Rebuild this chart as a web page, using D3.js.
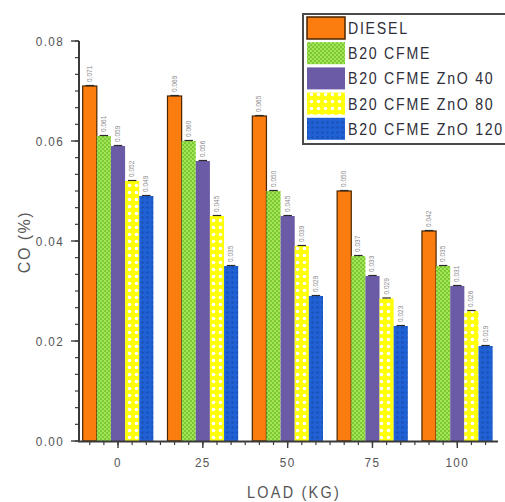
<!DOCTYPE html>
<html>
<head>
<meta charset="utf-8">
<script src="https://cdn.jsdelivr.net/npm/d3@7"></script>
<style>
  html, body { margin: 0; padding: 0; background: #fff; }
  svg text { font-family: "Liberation Sans", Arial, sans-serif; }
</style>
</head>
<body>
<svg id="chart" width="505" height="502"></svg>
<script>
// data
let loads = [0, 25, 50, 75, 100];
let series_names = ['DIESEL', 'B20 CFME', 'B20 CFME ZnO 40', 'B20 CFME ZnO 80', 'B20 CFME ZnO 120'];
let diesel = [0.071, 0.069, 0.065, 0.050, 0.042];
let b20_cfme = [0.061, 0.060, 0.050, 0.037, 0.035];
let b20_zno40 = [0.059, 0.056, 0.045, 0.033, 0.031];
let b20_zno80 = [0.052, 0.045, 0.039, 0.0285, 0.026];
let b20_zno120 = [0.049, 0.035, 0.029, 0.023, 0.019];
let y_ticks = [0, 0.02, 0.04, 0.06, 0.08];

let all_values = [diesel, b20_cfme, b20_zno40, b20_zno80, b20_zno120];
let fills = ['#fb7d10', 'url(#pat_green)', '#6b5aa6', 'url(#pat_yellow)', 'url(#pat_blue)'];
let strokes = ['#4a2500', 'none', 'none', 'none', 'none'];

let svg = d3.select('#chart');
let axis_color = '#3a3a3a';
let text_color = '#555';

// patterns
let defs = svg.append('defs');
let pg = defs.append('pattern').attr('id', 'pat_green').attr('patternUnits', 'userSpaceOnUse')
    .attr('width', 4).attr('height', 4);
pg.append('rect').attr('width', 4).attr('height', 4).attr('fill', '#78cc2e');
pg.append('rect').attr('width', 2).attr('height', 2).attr('fill', '#a6e25e');
pg.append('rect').attr('x', 2).attr('y', 2).attr('width', 2).attr('height', 2).attr('fill', '#a6e25e');

let py = defs.append('pattern').attr('id', 'pat_yellow').attr('patternUnits', 'userSpaceOnUse')
    .attr('width', 7).attr('height', 7);
py.append('rect').attr('width', 7).attr('height', 7).attr('fill', '#ffff08');
py.append('circle').attr('cx', 3.5).attr('cy', 3.5).attr('r', 1.8).attr('fill', '#ffffff');

let pb = defs.append('pattern').attr('id', 'pat_blue').attr('patternUnits', 'userSpaceOnUse')
    .attr('width', 5).attr('height', 5);
pb.append('rect').attr('width', 5).attr('height', 5).attr('fill', '#2062d6');
pb.append('circle').attr('cx', 2.5).attr('cy', 2.5).attr('r', 1.3).attr('fill', '#1a50b8');

// scales
let x = d3.scaleLinear().domain([-11.5, 112]).range([79, 498]);
let y = d3.scaleLinear().domain([0, 0.08]).range([441, 41]);
let group_w = x(25 * 5 / 6) - x(0);
let x1 = d3.scaleBand().domain(d3.range(series_names.length)).range([-group_w / 2, group_w / 2]).padding(0);

// bars
all_values.forEach(function (vals, si) {
    let g = svg.append('g');
    vals.forEach(function (v, li) {
        let bx = x(loads[li]) + x1(si);
        let bw = x1.bandwidth();
        g.append('rect')
            .attr('x', bx).attr('y', y(v))
            .attr('width', bw).attr('height', y(0) - y(v))
            .attr('fill', fills[si])
            .attr('stroke', strokes[si]).attr('stroke-width', 1.2);
        // small error cap
        g.append('line')
            .attr('x1', bx + bw * 0.2).attr('x2', bx + bw * 0.8)
            .attr('y1', y(v) - 0.5).attr('y2', y(v) - 0.5)
            .attr('stroke', '#2a2a2a').attr('stroke-width', 1.2);
        // value label
        g.append('text')
            .attr('transform', 'translate(' + (bx + bw / 2 + 2) + ',' + (y(v) - 4) + ') rotate(-90)')
            .attr('font-size', 6.5)
            .attr('fill', '#8a8a8a')
            .text(d3.format('.3f')(v));
    });
});

// y axis
let y_minor = d3.range(0, 0.08 + 1e-9, 0.02 / 6);
svg.append('g').selectAll('line').data(y_minor).join('line')
    .attr('x1', 75).attr('x2', 79)
    .attr('y1', d => y(d)).attr('y2', d => y(d))
    .attr('stroke', axis_color).attr('stroke-width', 1.2);
svg.append('g').selectAll('line').data(y_ticks).join('line')
    .attr('x1', 71).attr('x2', 79)
    .attr('y1', d => y(d)).attr('y2', d => y(d))
    .attr('stroke', axis_color).attr('stroke-width', 1.4);
svg.append('g').selectAll('text').data(y_ticks).join('text')
    .attr('transform', d => 'translate(64,' + (y(d) + 4.5) + ') scale(0.9,1)')
    .attr('text-anchor', 'end')
    .attr('font-size', 13).attr('letter-spacing', 1.5)
    .attr('fill', text_color)
    .text(d => d3.format('.2f')(d));
svg.append('line')
    .attr('x1', 79).attr('x2', 79).attr('y1', y(0.08)).attr('y2', y(0) + 1)
    .attr('stroke', axis_color).attr('stroke-width', 2);

// x axis
let x_minor = [];
loads.forEach(function (l) {
    for (let k = -2; k <= 3; k++) x_minor.push(l + k * 25 / 6);
});
svg.append('g').selectAll('line').data(x_minor.filter(d => x(d) < 498)).join('line')
    .attr('x1', d => x(d)).attr('x2', d => x(d))
    .attr('y1', 441).attr('y2', 445)
    .attr('stroke', axis_color).attr('stroke-width', 1.2);
svg.append('g').selectAll('line').data(loads).join('line')
    .attr('x1', d => x(d)).attr('x2', d => x(d))
    .attr('y1', 441).attr('y2', 448)
    .attr('stroke', axis_color).attr('stroke-width', 1.4);
svg.append('g').selectAll('text').data(loads).join('text')
    .attr('transform', d => 'translate(' + x(d) + ',467) scale(0.9,1)')
    .attr('text-anchor', 'middle')
    .attr('font-size', 13).attr('letter-spacing', 1.5)
    .attr('fill', text_color)
    .text(d => d);
svg.append('line')
    .attr('x1', 78).attr('x2', 498).attr('y1', 441.5).attr('y2', 441.5)
    .attr('stroke', axis_color).attr('stroke-width', 2);

// axis titles
svg.append('text')
    .attr('transform', 'translate(30,242) rotate(-90)')
    .attr('text-anchor', 'middle')
    .attr('font-size', 16).attr('letter-spacing', 1.5)
    .attr('fill', text_color)
    .text('CO (%)');
svg.append('text')
    .attr('transform', 'translate(294,498) scale(0.9,1)')
    .attr('text-anchor', 'middle')
    .attr('font-size', 16).attr('letter-spacing', 2.5)
    .attr('fill', text_color)
    .text('LOAD (KG)');

// legend
let legend = svg.append('g');
legend.append('rect')
    .attr('x', 303).attr('y', 14).attr('width', 240).attr('height', 130)
    .attr('fill', '#fff').attr('stroke', '#4a4a4a').attr('stroke-width', 2);
series_names.forEach(function (name, i) {
    let ly = 17 + i * 25.2;
    legend.append('rect')
        .attr('x', 307).attr('y', ly).attr('width', 38).attr('height', 22)
        .attr('fill', fills[i])
        .attr('stroke', strokes[i]).attr('stroke-width', 1.5);
    legend.append('text')
        .attr('transform', 'translate(348,' + (ly + 17) + ') scale(0.86,1)')
        .attr('font-size', 16.5).attr('letter-spacing', 2)
        .attr('fill', '#2f2f3a')
        .text(name);
});
</script>
</body>
</html>
